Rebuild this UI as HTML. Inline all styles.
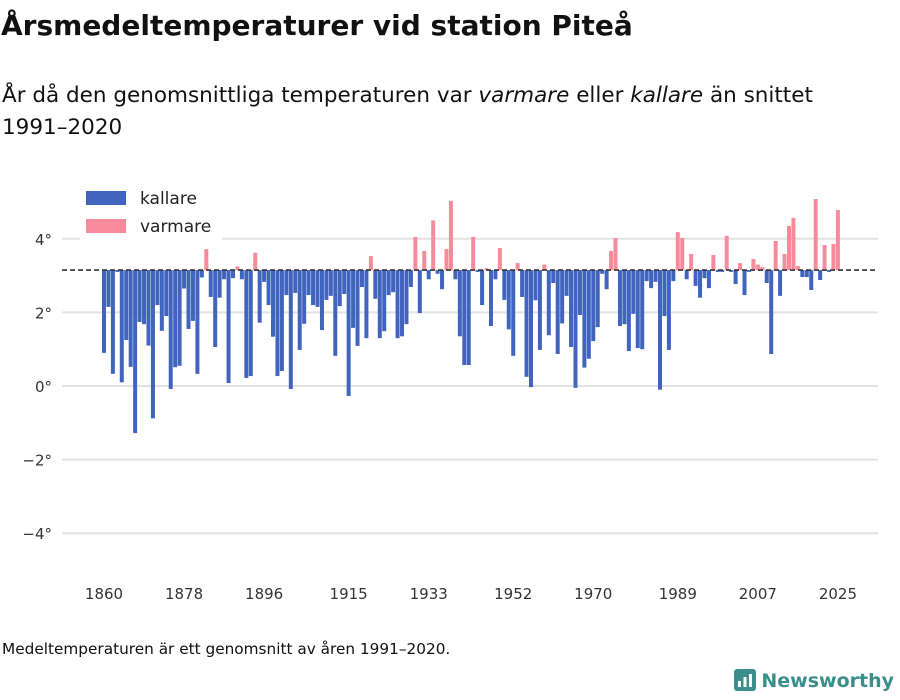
<!DOCTYPE html>
<html><head><meta charset="utf-8">
<style>
body{margin:0;width:900px;height:700px;background:#fff;font-family:"DejaVu Sans","Liberation Sans",sans-serif;color:#111;overflow:hidden;position:relative}
#title{position:absolute;left:1px;top:9px;font-size:28px;font-weight:bold;margin:0}
#sub{position:absolute;left:2px;top:80px;font-size:21.5px;line-height:32px;width:860px}
#foot{position:absolute;left:2px;top:640px;font-size:15.3px}
#logo{position:absolute;right:6px;top:669px;font-size:19px;font-weight:bold;color:#3a8f8c}
</style></head><body>
<h1 id="title">Årsmedeltemperaturer vid station Piteå</h1>
<div id="sub">År då den genomsnittliga temperaturen var <i>varmare</i> eller <i>kallare</i> än snittet 1991–2020</div>
<svg id="chart" width="900" height="700" style="position:absolute;left:0;top:0"></svg>
<div id="foot">Medeltemperaturen är ett genomsnitt av åren 1991–2020.</div>
<div id="logo"><svg width="22" height="22" style="vertical-align:-4px;margin-right:5px"><rect width="22" height="22" rx="3" fill="#3a8f8c"/><rect x="4" y="12" width="3" height="6" fill="#fff"/><rect x="9.5" y="8" width="3" height="10" fill="#fff"/><rect x="15" y="5" width="3" height="13" fill="#fff"/></svg>Newsworthy</div>
<script>
const startYear = 1860;
const values = [0.9,2.15,0.33,3.1,0.1,1.25,0.52,-1.28,1.74,1.68,1.1,-0.88,2.2,1.5,1.9,-0.08,0.51,0.55,2.65,1.55,
1.77,0.33,2.95,3.72,2.42,1.06,2.4,2.9,0.08,2.93,3.25,2.9,0.22,0.27,3.62,1.72,2.83,2.2,1.34,0.27,
0.41,2.47,-0.08,2.53,0.98,1.69,2.47,2.2,2.15,1.52,2.34,2.45,0.82,2.17,2.5,-0.27,1.58,1.09,2.69,1.3,
3.53,2.37,1.3,1.49,2.47,2.55,1.3,1.35,1.68,2.69,4.05,1.98,3.67,2.9,4.5,3.05,2.63,3.72,5.03,2.9,
1.35,0.57,0.57,4.05,3.1,2.2,3.2,1.63,2.9,3.75,2.34,1.54,0.82,3.34,2.42,0.25,-0.03,2.33,0.98,3.3,
1.38,2.8,0.87,1.7,2.45,1.06,-0.05,1.93,0.5,0.74,1.22,1.6,3.05,2.63,3.67,4.02,1.63,1.68,0.95,1.96,
1.03,1.0,2.85,2.66,2.83,-0.1,1.9,0.98,2.85,4.18,4.02,2.9,3.59,2.72,2.4,2.93,2.66,3.56,3.1,3.1,
4.08,3.1,2.77,3.34,2.47,3.1,3.45,3.3,3.23,2.8,0.87,3.94,2.45,3.59,4.35,4.57,3.26,2.96,2.96,2.61,
5.08,2.88,3.83,3.1,3.86,4.78];
const mean = 3.15;
const yTicks = [-4,-2,0,2,4];
const xTicks = [1860,1878,1896,1915,1933,1952,1970,1989,2007,2025];
const NS="http://www.w3.org/2000/svg", svg=document.getElementById('chart');
const y = v => 386 - v*36.8;
const x = yr => 104 + (yr-startYear)*4.448;
const FF='DejaVu Sans, Liberation Sans, sans-serif';
function mk(t,a){const e=document.createElementNS(NS,t);for(const k in a)e.setAttribute(k,a[k]);svg.appendChild(e);return e;}
yTicks.forEach(t=>{
  const g=mk('line',{x1:62,x2:878,y1:y(t),y2:y(t),stroke:'#e2e2e2','stroke-width':2});
  
  
  const l=mk('text',{x:52,y:y(t)+6,'text-anchor':'end','font-size':15,fill:'#333','font-family':FF});
  l.textContent=(t<0?'−'+(-t):t)+'°';
  
  
});
xTicks.forEach(t=>{
  const l=mk('text',{x:x(t),y:599,'text-anchor':'middle','font-size':15,fill:'#333','font-family':FF});
  l.textContent=t;
  
  
});
values.forEach((v,i)=>{
  const yr=startYear+i, top=Math.min(y(v),y(mean)), h=Math.abs(y(v)-y(mean));
  const r=mk('rect',{x:x(yr)-2,y:top,width:4,height:Math.max(h,0.5),fill:v<mean?'#4164bf':'#f98a9b'});
  
  
});
const m=mk('line',{x1:62,x2:878,y1:y(mean),y2:y(mean),stroke:'#333','stroke-width':1.6,'stroke-dasharray':'5,3'});


const bg=mk('rect',{x:80,y:184,width:142,height:58,fill:'#fff'});


[['kallare','#4164bf',191],['varmare','#f98a9b',219]].forEach(([n,c,yy])=>{
  const r=mk('rect',{x:86,y:yy,width:40,height:14,fill:c});
  
  
  const t=mk('text',{x:140,y:yy+13,'font-size':17,fill:'#222','font-family':FF});
  t.textContent=n;
  
  
});
</script>
</body></html>
